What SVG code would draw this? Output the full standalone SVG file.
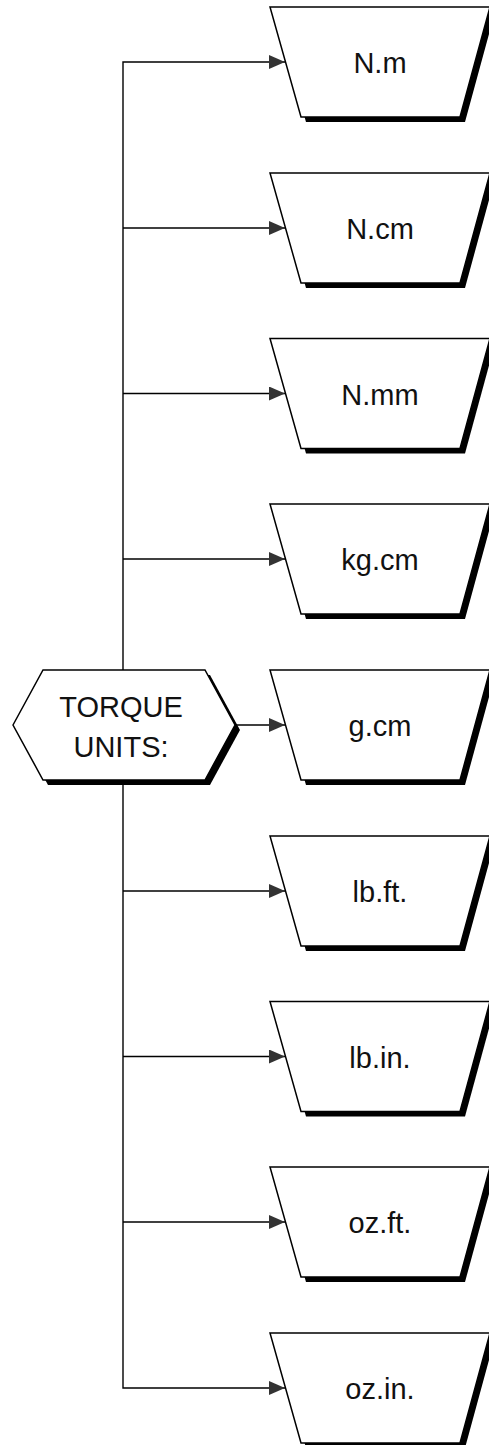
<svg xmlns="http://www.w3.org/2000/svg" width="489" height="1445" viewBox="0 0 489 1445">
<style>
.shadow{fill:#000;stroke:none}
.shape{fill:#fff;stroke:#000;stroke-width:1.5;stroke-linejoin:miter}
.lbl{font-family:"Liberation Sans",Arial,sans-serif;font-size:29px;fill:#111;text-anchor:middle}
.conn{fill:none;stroke:#000;stroke-width:1.4}
</style>
<defs>
<marker id="arr" markerWidth="17" markerHeight="14" refX="16" refY="7" orient="auto" markerUnits="userSpaceOnUse">
<path d="M0,0 L16,7 L0,14 Z" fill="#333"/>
</marker>
<g id="trap">
<polygon class="shadow" points="275,12 495,12 465,122 306,122"/>
<polygon class="shape" points="270,7 490,7 460,117 301,117"/>
</g>
</defs>
<g id="connectors">
<path class="conn" d="M123,670 L123,62 L285,62" marker-end="url(#arr)"/>
<path class="conn" d="M123,228 L285,228" marker-end="url(#arr)"/>
<path class="conn" d="M123,393.5 L285,393.5" marker-end="url(#arr)"/>
<path class="conn" d="M123,559 L285,559" marker-end="url(#arr)"/>
<path class="conn" d="M236,725 L285,725" marker-end="url(#arr)"/>
<path class="conn" d="M123,780 L123,1388 L285,1388" marker-end="url(#arr)"/>
<path class="conn" d="M123,891 L285,891" marker-end="url(#arr)"/>
<path class="conn" d="M123,1056.5 L285,1056.5" marker-end="url(#arr)"/>
<path class="conn" d="M123,1222 L285,1222" marker-end="url(#arr)"/>
</g>
<g id="torque">
<polygon class="shadow" points="18,730 48,675 210,675 240,730 210,785 48,785"/>
<polygon class="shape" points="13,725 43,670 205,670 235,725 205,780 43,780"/>
<text class="lbl" x="121" y="717">TORQUE</text>
<text class="lbl" x="121" y="757">UNITS:</text>
</g>
<g id="n-m"><use href="#trap" y="0"/><text class="lbl" x="380" y="73">N.m</text></g>
<g id="n-cm"><use href="#trap" y="166"/><text class="lbl" x="380" y="239">N.cm</text></g>
<g id="n-mm"><use href="#trap" y="331.5"/><text class="lbl" x="380" y="404.5">N.mm</text></g>
<g id="kg-cm"><use href="#trap" y="497"/><text class="lbl" x="380" y="570">kg.cm</text></g>
<g id="g-cm"><use href="#trap" y="663"/><text class="lbl" x="380" y="736">g.cm</text></g>
<g id="lb-ft"><use href="#trap" y="829"/><text class="lbl" x="380" y="902">lb.ft.</text></g>
<g id="lb-in"><use href="#trap" y="994.5"/><text class="lbl" x="380" y="1067.5">lb.in.</text></g>
<g id="oz-ft"><use href="#trap" y="1160"/><text class="lbl" x="380" y="1233">oz.ft.</text></g>
<g id="oz-in"><use href="#trap" y="1326"/><text class="lbl" x="380" y="1399">oz.in.</text></g>
</svg>
